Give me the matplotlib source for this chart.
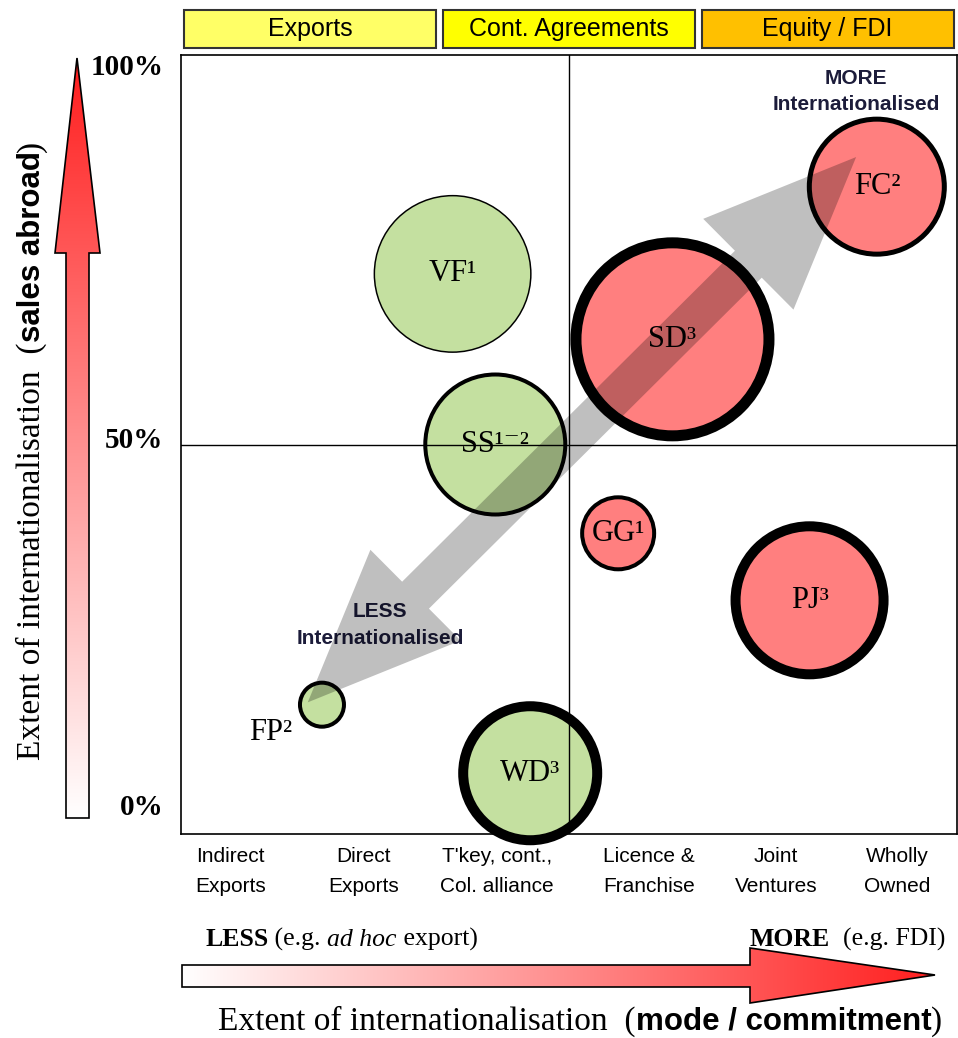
import numpy as np
import matplotlib.pyplot as plt
from matplotlib.patches import Polygon, Rectangle
from matplotlib.colors import LinearSegmentedColormap

SERIF = ['Liberation Serif', 'DejaVu Serif']
SANS = ['Liberation Sans', 'DejaVu Sans']

# entry modes along the x axis, one unit each
modes = ['Indirect\nExports', 'Direct\nExports', "T'key, cont.,\nCol. alliance",
         'Licence &\nFranchise', 'Joint\nVentures', 'Wholly\nOwned']
mode_pos = [0.38, 1.41, 2.44, 3.62, 4.60, 5.54]

groups = ['Exports', 'Cont. Agreements', 'Equity / FDI']
group_span = [(0, 2), (2, 4), (4, 6)]
group_colors = ['#ffff66', '#ffff00', '#ffc000']

# firms: commitment (mode scale), % sales abroad, bubble radius (px), outline (px)
firms = ['VF', 'SS', 'SD', 'FC', 'GG', 'PJ', 'FP', 'WD']
notes = ['1', '1-2', '3', '2', '1', '3', '2', '3']
commit = [2.10, 2.43, 3.80, 5.38, 3.38, 4.86, 1.09, 2.70]
sales = [71.9, 50.0, 63.5, 83.1, 38.6, 30.0, 16.6, 7.8]
radius = [79, 72, 102, 70, 38, 79, 24, 72]
outline = [1.5, 4, 11, 5, 4, 10, 4, 10]

y_ticks = [0, 50, 100]
y_tick_shift = [19, 3, -9]   # label nudge in points

GREEN = '#c4e0a0'
RED = '#ff7f7f'
SUP = str.maketrans('123-', '¹²³⁻')

fig = plt.figure(figsize=(9.58, 10.38), dpi=100)
W, H = 958, 1038

# pixel-space layer for the arrows and axis titles
deco = fig.add_axes([0, 0, 1, 1])
deco.set_xlim(0, W)
deco.set_ylim(H, 0)
deco.axis('off')

ax = fig.add_axes([181 / W, (H - 834) / H, 776 / W, 779 / H])
ax.set_xlim(0, 6)
ax.set_ylim(0, 100)
ax.set_xticks([])
ax.set_yticks([])
for sp in ax.spines.values():
    sp.set_linewidth(1.2)

# quadrant lines
ax.axvline(3, color='black', lw=1, zorder=4)
ax.axhline(50, color='black', lw=1, zorder=4)

# bubbles
lw_pt = np.array(outline) * 0.72
diam = 2 * (np.array(radius) - np.array(outline) / 2) * 0.72
colors = [GREEN if c < 3 else RED for c in commit]
ax.scatter(commit, sales, s=diam ** 2, c=colors, edgecolors='black',
           linewidths=lw_pt, zorder=3, clip_on=False)

for name, note, x, y in zip(firms, notes, commit, sales):
    label = name + note.translate(SUP)
    if name == 'FP':
        ax.annotate(label, (x, y), xytext=(-37, -20), textcoords='offset points',
                    ha='center', va='center', fontsize=22, family=SERIF, zorder=7)
    else:
        ax.text(x, y, label, ha='center', va='center', fontsize=22,
                family=SERIF, zorder=7)

# big grey double arrow from LESS to MORE internationalised
fig.canvas.draw()
a = ax.transData.transform((0.98, 16.9))
b = ax.transData.transform((5.22, 86.9))
u = (b - a) / np.hypot(*(b - a))
n = np.array([-u[1], u[0]])
hl, hw, sw = 152, 64, 19
pts = [a, a + u * hl + n * hw, a + u * hl + n * sw, b - u * hl + n * sw,
       b - u * hl + n * hw, b, b - u * hl - n * hw, b - u * hl - n * sw,
       a + u * hl - n * sw, a + u * hl - n * hw]
fig.patches.append(Polygon(pts, closed=True, transform=None, figure=fig,
                           facecolor='black', alpha=0.25, edgecolor='none',
                           zorder=5))

ax.text(5.22, 95.3, 'MORE\nInternationalised', ha='center', va='center',
        fontsize=15, fontweight='bold', family=SANS, color='#1c1c3a',
        linespacing=1.5, zorder=7)
ax.text(1.54, 26.8, 'LESS\nInternationalised', ha='center', va='center',
        fontsize=15, fontweight='bold', family=SANS, color='#1c1c3a',
        linespacing=1.5, zorder=7)

# y tick labels
ytrans = ax.get_yaxis_transform()
for t, dy in zip(y_ticks, y_tick_shift):
    ax.annotate(f'{t}%', (-0.023, t), xycoords=ytrans, xytext=(0, dy),
                textcoords='offset points', ha='right', va='center',
                fontsize=21, fontweight='bold', family=SERIF)

# entry mode labels
xtrans = ax.get_xaxis_transform()
for lab, x in zip(modes, mode_pos):
    ax.text(x, -0.017, lab, transform=xtrans, ha='center', va='top',
            fontsize=15, family=SANS, linespacing=1.72)

# group header boxes
for g, (g0, g1), col in zip(groups, group_span, group_colors):
    ax.add_patch(Rectangle((g0 + 0.025, 1.009), g1 - g0 - 0.05, 0.049,
                           transform=xtrans, facecolor=col, edgecolor='#333333',
                           lw=1.5, clip_on=False))
    ax.text((g0 + g1) / 2, 1.033, g, transform=xtrans, ha='center',
            va='center', fontsize=18, family=SANS)


# gradient arrows
def grad_arrow(poly, extent, vertical):
    cmap = LinearSegmentedColormap.from_list('wr', ['white', '#ff1e1e'])
    g = np.linspace(0, 1, 256)
    img = g[::-1, None] if vertical else g[None, :]
    patch = Polygon(poly, closed=True, facecolor='none', edgecolor='black',
                    lw=1.2, zorder=3)
    deco.add_patch(patch)
    im = deco.imshow(img, cmap=cmap, extent=extent, origin='upper',
                     aspect='auto', zorder=2)
    im.set_clip_path(patch)


grad_arrow([(77, 58), (100, 253), (89, 253), (89, 818), (66, 818), (66, 253),
            (55, 253)], (54, 101, 818, 58), vertical=True)
grad_arrow([(182, 965), (750, 965), (750, 948), (935, 975), (750, 1003),
            (750, 987), (182, 987)], (182, 935, 1003, 948), vertical=False)
deco.set_xlim(0, W)
deco.set_ylim(H, 0)


def chain(pieces, x, y, rotation=0):
    prev = None
    for s, kw in pieces:
        if prev is None:
            xy, coords = (x, y), 'figure pixels'
        elif rotation == 0:
            xy, coords = (1, y), (prev, 'figure pixels')
        else:
            xy, coords = (x, 1), ('figure pixels', prev)
        prev = deco.annotate(s, xy=xy, xycoords=coords, ha='left',
                             va='baseline', rotation=rotation,
                             rotation_mode='anchor', **kw)


serif_t = dict(family=SERIF, fontsize=24)
sans_t = dict(family=SANS, fontsize=22.5, fontweight='bold')
chain([('Extent of internationalisation  (', serif_t),
       ('mode / commitment', sans_t), (')', serif_t)], 218, H - 1030)
chain([('Extent of internationalisation  (', serif_t),
       ('sales abroad', sans_t), (')', serif_t)], 40, H - 760, rotation=90)

serif_s = dict(family=SERIF, fontsize=18.5)
chain([('LESS', dict(serif_s, fontweight='bold')), (' (e.g. ', serif_s),
       ('ad hoc', dict(serif_s, style='italic')), (' export)', serif_s)],
      205, H - 946)
chain([('MORE', dict(serif_s, fontweight='bold')), ('  (e.g. FDI)', serif_s)],
      750, H - 946)

fig.savefig('out.png', dpi=100)
